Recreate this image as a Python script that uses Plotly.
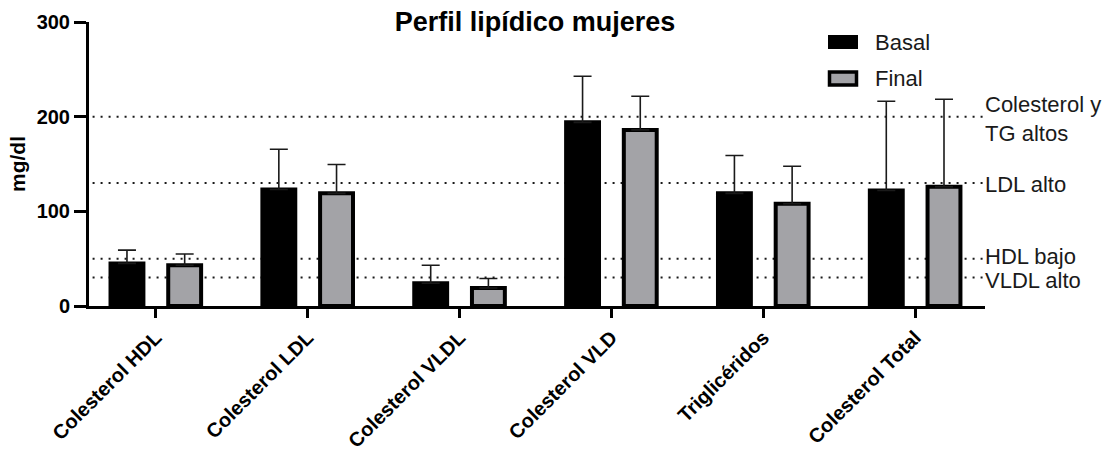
import plotly.graph_objects as go

categories = ["Colesterol HDL", "Colesterol LDL", "Colesterol VLDL",
              "Colesterol VLD", "Triglicéridos", "Colesterol Total"]
basal = [45, 123, 24, 194, 119, 122]
basal_err = [14, 42.6, 19, 48.7, 40, 94.3]
final = [43, 119, 19, 186, 108, 126]
final_err = [12, 30.4, 10, 35.5, 39.6, 92.4]

ref_values = [200, 130, 50, 30]
ref_labels = ["Colesterol y<br>TG altos", "LDL alto", "HDL bajo", "VLDL alto"]
ref_label_shift = [-2, -2, 2, -3]

y_ticks = [0, 100, 200, 300]

W, H = 1117, 455
ML, MR, MT, MB = 89, 132, 22, 149
PW, PH = W - ML - MR, H - MT - MB

def px_x(px):
    return (px - ML) / PW

def px_y(py):
    return (H - MB - py) / PH

FONT = "Arial, Liberation Sans, Helvetica, sans-serif"
GRAY = "#a3a3a7"
INK = "#1a1a1a"

fig = go.Figure()
fig.add_trace(go.Bar(
    x=categories, y=basal, name="Basal",
    marker=dict(color="black", line=dict(color="black", width=4)),
    error_y=dict(type="data", symmetric=False, array=basal_err,
                 arrayminus=[0] * len(basal), color=INK, thickness=1.6, width=9),
    showlegend=False,
))
fig.add_trace(go.Bar(
    x=categories, y=final, name="Final",
    marker=dict(color=GRAY, line=dict(color="black", width=4)),
    error_y=dict(type="data", symmetric=False, array=final_err,
                 arrayminus=[0] * len(final), color=INK, thickness=1.6, width=9),
    showlegend=False,
))

shapes = []
annotations = []
for v, lab, sh in zip(ref_values, ref_labels, ref_label_shift):
    shapes.append(dict(type="line", xref="paper", yref="y", x0=0.004, x1=1,
                       y0=v, y1=v, layer="below",
                       line=dict(color=INK, width=2, dash="2px,6px")))
    annotations.append(dict(xref="paper", yref="y", x=1, y=v, xanchor="left",
                            yanchor="middle", xshift=-2, yshift=sh, showarrow=False,
                            text=lab, align="left",
                            font=dict(family=FONT, size=22, color=INK)))

# custom legend
shapes.append(dict(type="rect", xref="paper", yref="paper",
                   x0=px_x(828), x1=px_x(858), y0=px_y(49), y1=px_y(35),
                   fillcolor="black", line=dict(color="black", width=0)))
shapes.append(dict(type="rect", xref="paper", yref="paper",
                   x0=px_x(829.5), x1=px_x(856.5), y0=px_y(85), y1=px_y(72),
                   fillcolor=GRAY, line=dict(color="black", width=3.5)))
annotations.append(dict(xref="paper", yref="paper", x=px_x(873), y=px_y(42),
                        xanchor="left", yanchor="middle", showarrow=False,
                        text="Basal", font=dict(family=FONT, size=22, color=INK)))
annotations.append(dict(xref="paper", yref="paper", x=px_x(873), y=px_y(79),
                        xanchor="left", yanchor="middle", showarrow=False,
                        text="Final", font=dict(family=FONT, size=22, color=INK)))

fig.update_layout(
    width=W, height=H,
    margin=dict(l=ML, r=MR, t=MT, b=MB),
    paper_bgcolor="white", plot_bgcolor="white",
    barmode="group", bargap=0.24, bargroupgap=0.43,
    title=dict(text="Perfil lipídico mujeres", x=535 / W, xanchor="center",
               y=1 - 22 / H, yanchor="middle", yref="container",
               font=dict(family=FONT, size=27, color="black", weight="bold")),
    shapes=shapes, annotations=annotations,
    showlegend=False,
    xaxis=dict(type="category", range=[-0.44, 5.46], showgrid=False, zeroline=False,
               showline=True, linecolor="black", linewidth=3, automargin=False,
               ticks="outside", ticklen=9, tickwidth=3, tickcolor="black",
               tickangle=-45,
               tickfont=dict(family=FONT, size=20, color="black", weight="bold")),
    yaxis=dict(range=[0, 300], tickvals=y_ticks, showgrid=False, zeroline=False,
               showline=True, linecolor="black", linewidth=3, automargin=False,
               ticks="outside", ticklen=12, tickwidth=3, tickcolor="black",
               tickfont=dict(family=FONT, size=20, color="black", weight="bold"),
               title=dict(text="mg/dl", standoff=6,
                          font=dict(family=FONT, size=21, color="black", weight="bold"))),
)

fig.write_html("out.html")
